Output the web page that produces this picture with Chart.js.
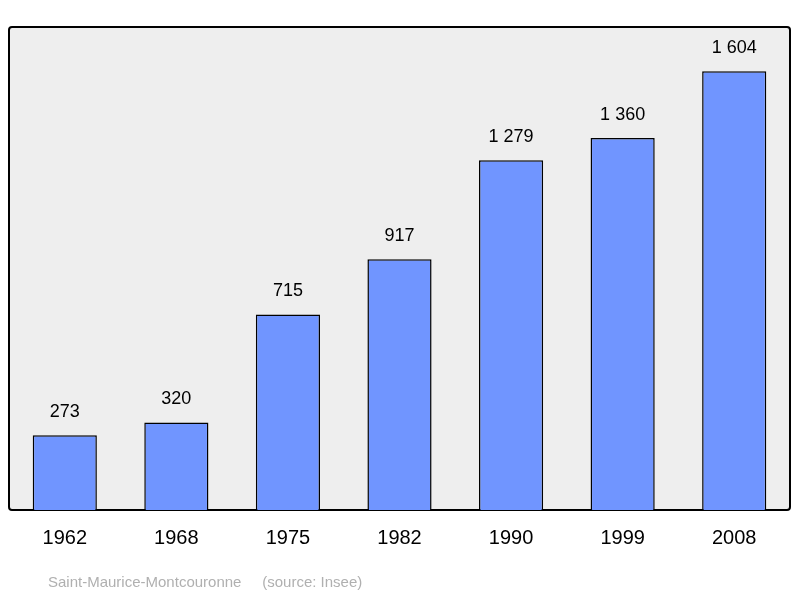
<!DOCTYPE html>
<html>
<head>
<meta charset="utf-8">
<script src="https://cdn.jsdelivr.net/npm/chart.js@4"></script>
<style>
  body { margin: 0; background: #fff; }
  #wrap { width: 800px; height: 598px; }
</style>
</head>
<body>
<div id="wrap"><canvas id="chart"></canvas></div>
<script>
var years = ["1962", "1968", "1975", "1982", "1990", "1999", "2008"];
var population = [273, 320, 715, 917, 1279, 1360, 1604];

function fmt(n) {
    return String(n).replace(/\B(?=(\d{3})+(?!\d))/g, " ");
}

// grey panel with black frame behind the bars
var panel = {
    id: "panel",
    beforeDatasetsDraw: function (chart) {
        var a = chart.chartArea, ctx = chart.ctx;
        ctx.save();
        ctx.fillStyle = "#eeeeee";
        ctx.strokeStyle = "#000";
        ctx.lineWidth = 2;
        ctx.beginPath();
        ctx.roundRect(a.left, a.top, a.right - a.left, a.bottom - a.top, 3);
        ctx.fill();
        ctx.stroke();
        ctx.restore();
    },
    afterDatasetsDraw: function (chart) {
        var ctx = chart.ctx;
        var meta = chart.getDatasetMeta(0);
        ctx.save();
        ctx.fillStyle = "#000";
        ctx.font = "18px 'Liberation Sans', Arial, sans-serif";
        ctx.textAlign = "center";
        ctx.textBaseline = "bottom";
        meta.data.forEach(function (bar, i) {
            ctx.fillText(fmt(population[i]), bar.x, bar.y - 14);
        });
        ctx.fillStyle = "#b0b0b0";
        ctx.font = "15px 'Liberation Sans', Arial, sans-serif";
        ctx.textAlign = "left";
        ctx.textBaseline = "middle";
        ctx.fillText("Saint-Maurice-Montcouronne     (source: Insee)", 48, 583);
        ctx.restore();
    }
};

new Chart(document.getElementById("chart"), {
    type: "bar",
    data: {
        labels: years,
        datasets: [{
            data: population,
            backgroundColor: "#7095ff",
            borderColor: "#000",
            borderWidth: 1.5,
            barPercentage: 0.575,
            categoryPercentage: 1
        }]
    },
    options: {
        responsive: true,
        maintainAspectRatio: false,
        animation: false,
        layout: { padding: { top: 27, left: 9, right: 10, bottom: 40 } },
        plugins: { legend: { display: false }, tooltip: { enabled: false } },
        scales: {
            x: {
                grid: { display: false },
                border: { display: false },
                ticks: {
                    color: "#000",
                    padding: 8,
                    font: { size: 20, family: "'Liberation Sans', Arial, sans-serif" }
                }
            },
            y: { display: false, min: 0, max: 1766 }
        }
    },
    plugins: [panel]
});
</script>
</body>
</html>
